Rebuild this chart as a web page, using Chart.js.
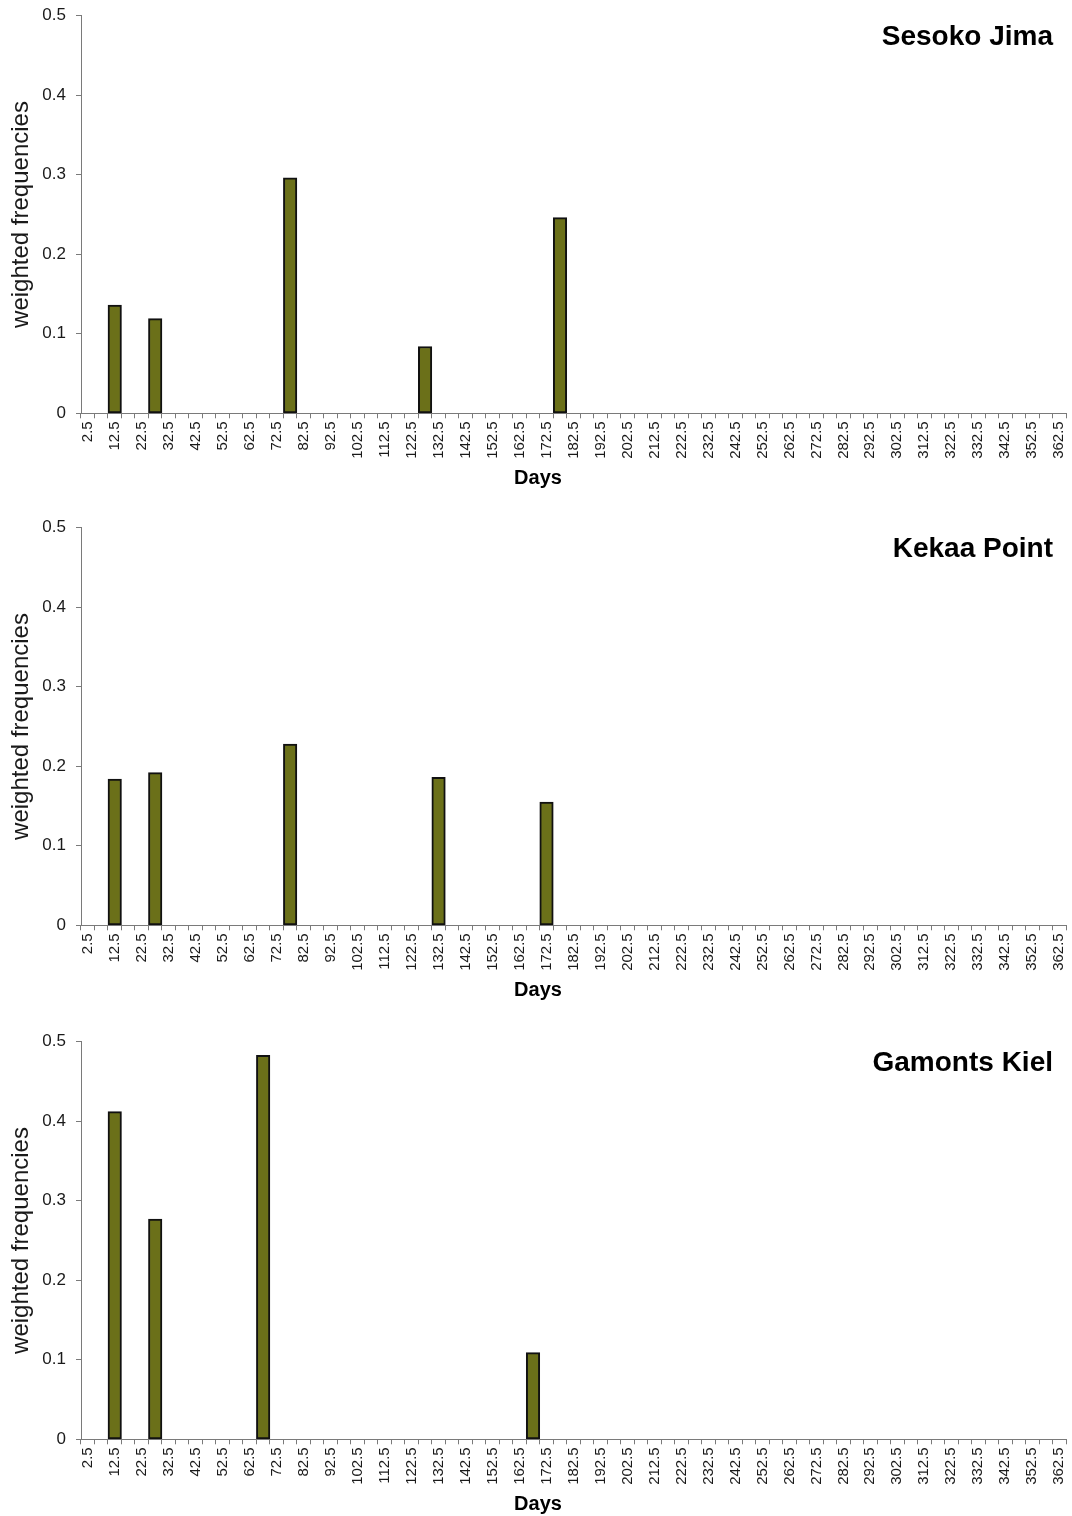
<!DOCTYPE html>
<html>
<head>
<meta charset="utf-8">
<title>Weighted frequencies by day</title>
<script src="https://cdn.jsdelivr.net/npm/chart.js@4.4.0/dist/chart.umd.min.js"></script>
<style>
  html, body { margin: 0; padding: 0; background: #ffffff; }
  #wrap { position: relative; width: 1072px; height: 1516px; overflow: hidden; }
  .panel { position: absolute; left: 0; width: 1072px; height: 490px; }
  .panel canvas { display: block; }
</style>
</head>
<body>
<div id="wrap">
  <div class="panel" style="top:0px"><canvas id="sesoko" width="1072" height="490"></canvas></div>
  <div class="panel" style="top:512px"><canvas id="kekaa" width="1072" height="490"></canvas></div>
  <div class="panel" style="top:1026px"><canvas id="gamonts" width="1072" height="490"></canvas></div>
</div>
<script>
// 5-day bins (bin centres); every second one carries a tick label
const dayBins = ['2.5','7.5','12.5','17.5','22.5','27.5','32.5','37.5','42.5','47.5',
  '52.5','57.5','62.5','67.5','72.5','77.5','82.5','87.5','92.5','97.5',
  '102.5','107.5','112.5','117.5','122.5','127.5','132.5','137.5','142.5','147.5',
  '152.5','157.5','162.5','167.5','172.5','177.5','182.5','187.5','192.5','197.5',
  '202.5','207.5','212.5','217.5','222.5','227.5','232.5','237.5','242.5','247.5',
  '252.5','257.5','262.5','267.5','272.5','277.5','282.5','287.5','292.5','297.5',
  '302.5','307.5','312.5','317.5','322.5','327.5','332.5','337.5','342.5','347.5',
  '352.5','357.5','362.5'];

// Sesoko Jima
const sesokoDays = ['12.5','27.5','77.5','127.5','177.5'];
const sesokoFreq = [0.136, 0.119, 0.296, 0.084, 0.246];

// Kekaa Point
const kekaaDays = ['12.5','27.5','77.5','132.5','172.5'];
const kekaaFreq = [0.184, 0.192, 0.228, 0.186, 0.155];

// Gamonts Kiel
const gamontsDays = ['12.5','27.5','67.5','167.5'];
const gamontsFreq = [0.412, 0.277, 0.483, 0.109];

// y axis range
const freqMin = 0;
const freqMax = 0.5;
const freqStep = 0.1;

const FONT = '"Liberation Sans", Arial, Helvetica, sans-serif';
const AXIS_GREY = '#7a7a7a';
const TEXT = '#1a1a1a';
const BAR_FILL = '#6b7019';
const BAR_EDGE = '#111111';

// Site name written in the upper right corner of the plot area
const siteLabel = {
  id: 'siteLabel',
  afterDraw(chart, args, opts) {
    const { ctx, chartArea } = chart;
    ctx.save();
    ctx.font = 'bold 28px ' + FONT;
    ctx.fillStyle = '#000000';
    ctx.textAlign = 'right';
    ctx.textBaseline = 'alphabetic';
    ctx.fillText(opts.text, chartArea.right - 13, chartArea.top + 29);
    ctx.restore();
  }
};

function makeChart(canvasId, site, days, freqs) {
  const points = days.map((d, i) => ({ x: d, y: freqs[i] }));
  return new Chart(document.getElementById(canvasId), {
    type: 'bar',
    data: {
      labels: dayBins,
      datasets: [{
        data: points,
        backgroundColor: BAR_FILL,
        borderColor: BAR_EDGE,
        borderWidth: 2,
        borderSkipped: false,
        barPercentage: 1,
        categoryPercentage: 1
      }]
    },
    options: {
      responsive: false,
      animation: false,
      devicePixelRatio: 1,
      layout: { padding: { top: 15.7, right: 6, bottom: 0, left: 10 } },
      plugins: {
        legend: { display: false },
        tooltip: { enabled: false },
        title: {
          display: true,
          position: 'bottom',
          text: 'Days',
          color: '#000000',
          font: { family: FONT, size: 20, weight: 'bold' },
          padding: { top: 2, bottom: 0 }
        },
        siteLabel: { text: site }
      },
      scales: {
        x: {
          type: 'category',
          offset: true,
          grid: {
            display: true,
            offset: true,
            drawOnChartArea: false,
            drawTicks: true,
            tickLength: 5,
            color: AXIS_GREY
          },
          border: { display: true, color: AXIS_GREY, width: 1 },
          ticks: {
            autoSkip: false,
            minRotation: 90,
            maxRotation: 90,
            padding: 3,
            color: TEXT,
            font: { family: FONT, size: 15 },
            callback: function (value, index) {
              return index % 2 === 0 ? this.getLabelForValue(value) : '';
            }
          },
          afterFit(scale) {
            scale.height = 50.7;
            scale.paddingLeft = 0;
            scale.paddingRight = 0;
          }
        },
        y: {
          min: freqMin,
          max: freqMax,
          grid: {
            display: true,
            drawOnChartArea: false,
            drawTicks: true,
            tickLength: 5,
            color: AXIS_GREY
          },
          border: { display: true, color: AXIS_GREY, width: 1 },
          ticks: {
            stepSize: freqStep,
            padding: 10,
            color: TEXT,
            font: { family: FONT, size: 17 },
            callback: (v) => (Math.abs(v) < 1e-9 ? '0' : Number(v).toFixed(1))
          },
          title: {
            display: true,
            text: 'weighted frequencies',
            color: TEXT,
            font: { family: FONT, size: 24 },
            padding: { top: -3, bottom: 0 }
          },
          afterFit(scale) {
            scale.width = 71;
            scale.paddingTop = 0;
            scale.paddingBottom = 0;
          }
        }
      }
    },
    plugins: [siteLabel]
  });
}

makeChart('sesoko', 'Sesoko Jima', sesokoDays, sesokoFreq);
makeChart('kekaa', 'Kekaa Point', kekaaDays, kekaaFreq);
makeChart('gamonts', 'Gamonts Kiel', gamontsDays, gamontsFreq);
</script>
</body>
</html>
